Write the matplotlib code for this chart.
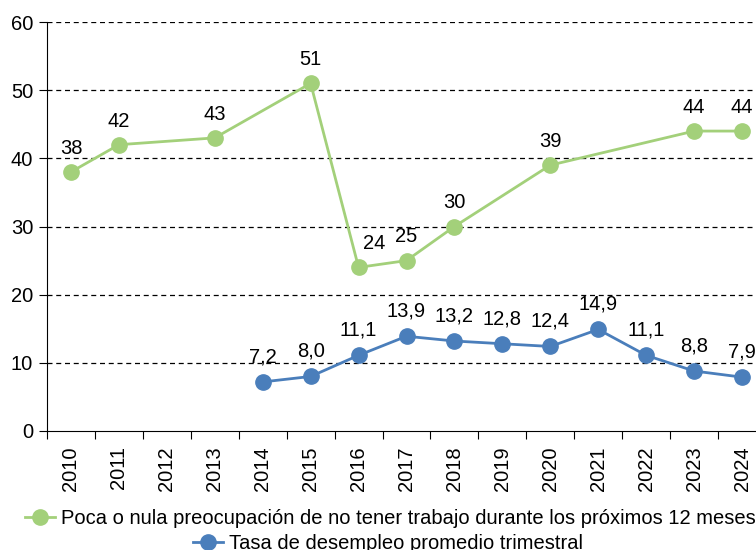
import matplotlib
matplotlib.use("Agg")
import matplotlib.pyplot as plt
from matplotlib.lines import Line2D
import numpy as np

plt.rcParams['font.family'] = ['Liberation Sans', 'DejaVu Sans']

years = list(range(2010, 2025))

green_years = [2010, 2011, 2013, 2015, 2016, 2017, 2018, 2020, 2023, 2024]
green_vals = [38, 42, 43, 51, 24, 25, 30, 39, 44, 44]
green_label = 'Poca o nula preocupación de no tener trabajo durante los próximos 12 meses'

blue_years = list(range(2014, 2025))
blue_vals = [7.2, 8.0, 11.1, 13.9, 13.2, 12.8, 12.4, 14.9, 11.1, 8.8, 7.9]
blue_label = 'Tasa de desempleo promedio trimestral'

green = '#A3D07A'
blue = '#4A7EBB'
fs = 14.5

fig = plt.figure(figsize=(7.56, 5.5), dpi=100)
ax = fig.add_axes([47 / 756, 1 - 431 / 550, (766 - 47) / 756, (431 - 22) / 550])

gx = [years.index(y) for y in green_years]
bx = [years.index(y) for y in blue_years]

ax.plot(gx, green_vals, '-o', color=green, lw=2, ms=11, zorder=3)
ax.plot(bx, blue_vals, '-o', color=blue, lw=2, ms=11, zorder=3)

# the 2016 label sits a bit to the right, clear of the falling line
nudge = {2016: 11}
for y, x, v in zip(green_years, gx, green_vals):
    ax.annotate(str(v), (x, v), xytext=(nudge.get(y, 0), 17), textcoords='offset points',
                ha='center', va='center', fontsize=fs)
for x, v in zip(bx, blue_vals):
    ax.annotate(f'{v:.1f}'.replace('.', ','), (x, v), xytext=(0, 18),
                textcoords='offset points', ha='center', va='center', fontsize=fs)

# axes
ax.set_ylim(0, 60)
ax.set_yticks(np.arange(0, 61, 10))
ax.set_xlim(-0.5, len(years) - 0.5)
ax.set_xticks(np.arange(-0.5, len(years), 1))
ax.set_xticklabels([])
ax.set_xticks(range(len(years)), minor=True)
ax.set_xticklabels([str(y) for y in years], minor=True, rotation=90)
ax.tick_params(axis='x', which='major', length=6, direction='out')
ax.tick_params(axis='x', which='minor', length=0, pad=11, labelsize=fs)
ax.tick_params(axis='y', length=6, direction='out', labelsize=fs, pad=4)

for v in range(10, 61, 10):
    ax.axhline(v, color='black', lw=0.9, dashes=(4, 3), zorder=1)

ax.spines['top'].set_visible(False)
ax.spines['right'].set_visible(False)

# legend rows, each centred
h1 = Line2D([], [], color=green, marker='o', lw=2, ms=11)
h2 = Line2D([], [], color=blue, marker='o', lw=2, ms=11)
fig.legend([h1], [green_label], loc='center', bbox_to_anchor=(0.516, 0.058),
           frameon=False, fontsize=fs, handlelength=1.5, handletextpad=0.3,
           borderpad=0, borderaxespad=0)
fig.legend([h2], [blue_label], loc='center', bbox_to_anchor=(0.513, 0.011),
           frameon=False, fontsize=fs, handlelength=1.5, handletextpad=0.3,
           borderpad=0, borderaxespad=0)

fig.savefig('out.png', dpi=100)
